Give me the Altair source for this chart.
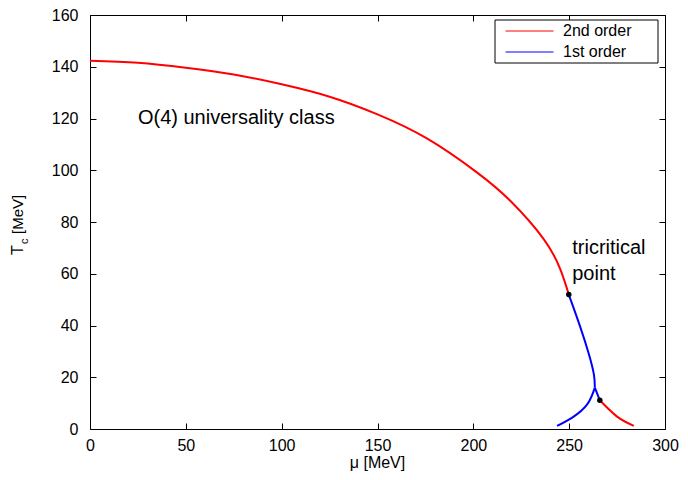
import altair as alt
import pandas as pd

# ---- data ----
red_main_mu = [0, 25, 50, 75, 100, 125, 150, 176, 202, 219.4, 236.8, 245.5, 249.8]
red_main_T = [142.3, 141.5, 139.6, 137.0, 133.2, 128.4, 121.6, 112.2, 99.1, 88.1, 73.3, 61.5, 52.0]
red_low_mu = [266.0, 275.0, 283.7]
red_low_T = [11.1, 4.8, 1.2]
blue_up_mu = [249.8, 250.7, 255.9, 260.3, 262.9, 263.4]
blue_up_T = [52.0, 50.1, 39.2, 28.9, 21.1, 16.0]
blue_cusp_mu = [263.4, 266.0]
blue_cusp_T = [16.0, 11.1]
blue_low_mu = [243.7, 251.6, 259.4, 263.4]
blue_low_T = [1.2, 4.4, 9.5, 16.0]

dot_mu = [249.8, 266.0]
dot_T = [52.0, 11.1]

orders = ["2nd order", "1st order"]
order_colors = ["#ff0000", "#0000ff"]

x_ticks = [0, 50, 100, 150, 200, 250, 300]
y_ticks = [0, 20, 40, 60, 80, 100, 120, 140, 160]

ann_text = ["O(4) universality class", "tricritical", "point"]
ann_mu = [25.0, 251.6, 251.6]
ann_T = [117.8, 67.5, 57.5]

# ---- build tables ----
segments = [
    ("r1", "2nd order", red_main_mu, red_main_T),
    ("r2", "2nd order", red_low_mu, red_low_T),
    ("b1", "1st order", blue_up_mu, blue_up_T),
    ("b2", "1st order", blue_cusp_mu, blue_cusp_T),
    ("b3", "1st order", blue_low_mu, blue_low_T),
]
rows = []
for seg, order, mus, ts in segments:
    for i, (m, t) in enumerate(zip(mus, ts)):
        rows.append({"mu": m, "T": t, "order": order, "seg": seg, "idx": i})
lines_df = pd.DataFrame(rows)
dots_df = pd.DataFrame({"mu": dot_mu, "T": dot_T})
ann_df = pd.DataFrame({"mu": ann_mu, "T": ann_T, "label": ann_text})
one = pd.DataFrame({"k": [0]})

W, H = 575, 414
FONT = "Liberation Sans"

xscale = alt.Scale(domain=[0, 300], nice=False, zero=False)
yscale = alt.Scale(domain=[0, 160], nice=False, zero=False)

common_axis = dict(domain=False, grid=False, tickSize=6, offset=-6,
                   tickColor="black", tickWidth=1, title=None,
                   labelOverlap=False, labelFlush=False)

# legend frame (gnuplot-style key box)
key_box = alt.Chart(one).mark_rect(fill="white", stroke="black", strokeWidth=1).encode(
    x=alt.value(405), x2=alt.value(568), y=alt.value(5), y2=alt.value(48)
)

lines = alt.Chart(lines_df).mark_line(strokeWidth=2, interpolate="natural").encode(
    x=alt.X("mu:Q", scale=xscale,
            axis=alt.Axis(orient="bottom", values=x_ticks, labelPadding=8,
                          labelFontSize=16, labelColor="black", format="d",
                          **common_axis)),
    y=alt.Y("T:Q", scale=yscale,
            axis=alt.Axis(orient="left", values=y_ticks, labelPadding=12,
                          labelFontSize=16, labelColor="black", format="d",
                          **common_axis)),
    color=alt.Color("order:N", scale=alt.Scale(domain=orders, range=order_colors),
                    legend=alt.Legend(title=None, orient="none", legendX=405, legendY=5,
                                      symbolType="stroke", symbolSize=2304,
                                      symbolStrokeWidth=1, clipHeight=16,
                                      rowPadding=5, padding=3, symbolOffset=7,
                                      labelOffset=9, labelFontSize=16,
                                      labelColor="black")),
    detail="seg:N",
    order="idx:Q",
)

dots = alt.Chart(dots_df).mark_circle(size=30, color="black", opacity=1).encode(
    x=alt.X("mu:Q", scale=xscale,
            axis=alt.Axis(orient="top", values=x_ticks, labels=False, **common_axis)),
    y=alt.Y("T:Q", scale=yscale,
            axis=alt.Axis(orient="right", values=y_ticks, labels=False, **common_axis)),
)

ann = alt.Chart(ann_df).mark_text(align="left", baseline="alphabetic",
                                  fontSize=20, color="black").encode(
    x=alt.X("mu:Q", scale=xscale, axis=None),
    y=alt.Y("T:Q", scale=yscale, axis=None),
    text="label:N",
)

yt1 = alt.Chart(one).mark_text(text="T", x=-67, y=240, angle=270, align="left",
                               baseline="alphabetic", fontSize=16, color="black")
yt2 = alt.Chart(one).mark_text(text="c", x=-62, y=229, angle=270, align="left",
                               baseline="alphabetic", fontSize=11, color="black")
yt3 = alt.Chart(one).mark_text(text="[MeV]", x=-67, y=219, angle=270, align="left",
                               baseline="alphabetic", fontSize=15, color="black")
xt = alt.Chart(one).mark_text(text="\u03bc [MeV]", x=W / 2, y=H + 39, align="center",
                              baseline="alphabetic", fontSize=16, color="black")

chart = alt.layer(lines, dots, key_box, ann, yt1, yt2, yt3, xt).resolve_axis(
    x="independent", y="independent"
).properties(
    width=W, height=H,
    autosize=alt.AutoSizeParams(type="none"),
    padding={"left": 82, "top": 7, "right": 15, "bottom": 43},
).configure(font=FONT).configure_view(stroke="black", strokeWidth=1)

chart.save("out.html", embed_options={"renderer": "svg", "actions": False})
